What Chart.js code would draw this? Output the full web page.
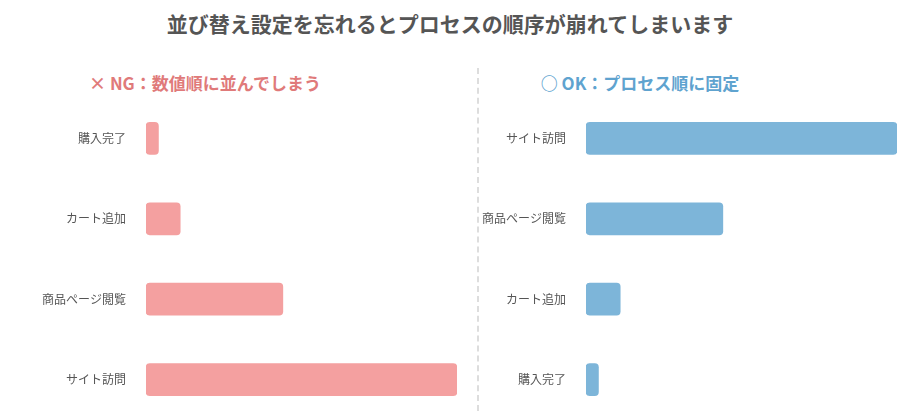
<!DOCTYPE html>
<html><head><meta charset="utf-8">
<script src="https://cdn.jsdelivr.net/npm/chart.js@4"></script>
<style>
body{margin:0;width:900px;height:411px;background:#fff;font-family:"Noto Sans CJK JP",sans-serif;position:relative;overflow:hidden}
.t{position:absolute;left:0;width:900px;text-align:center;top:8px;font-size:21px;font-weight:bold;color:#555}
.s{position:absolute;top:70px;font-size:17px;font-weight:bold;text-align:center}
.c{position:absolute;top:79px;height:360px}
.d{position:absolute;left:477px;top:68px;height:343px;border-left:2px dashed #ddd}
</style></head><body>
<div class="t">並び替え設定を忘れるとプロセスの順序が崩れてしまいます</div>
<div class="s" style="left:40px;width:330px;color:#e07a7a">× NG：数値順に並んでしまう</div>
<div class="s" style="left:480px;width:320px;color:#5fa3cf">○ OK：プロセス順に固定</div>
<div class="d"></div>
<div class="c" style="left:0;width:465px"><canvas id="ng"></canvas></div>
<div class="c" style="left:440px;width:460px"><canvas id="ok"></canvas></div>
<script>
const ngLabels = ['購入完了', 'カート追加', '商品ページ閲覧', 'サイト訪問'];
const ngValues = [4, 11, 44, 100];
const okLabels = ['サイト訪問', '商品ページ閲覧', 'カート追加', '購入完了'];
const okValues = [100, 44, 11, 4];

function makeChart(id, labels, values, color, padRight) {
  new Chart(document.getElementById(id), {
    type: 'bar',
    data: { labels: labels, datasets: [{ data: values, backgroundColor: color, barThickness: 32, borderRadius: 4, borderSkipped: false }] },
    options: {
      indexAxis: 'y', responsive: true, maintainAspectRatio: false, animation: false,
      layout: { padding: { right: padRight, top: 0, bottom: 0 } },
      plugins: { legend: { display: false }, tooltip: { enabled: false } },
      scales: {
        x: { display: false, min: 0, max: 100 },
        y: {
          grid: { display: false }, border: { display: false },
          ticks: { color: '#555', padding: 12, font: { size: 12, family: '"Noto Sans CJK JP"' } },
          afterFit: (s) => { s.width = 146; }
        }
      }
    }
  });
}
makeChart('ng', ngLabels, ngValues, '#f4a0a0', 8);
makeChart('ok', okLabels, okValues, '#7db5d9', 3);
</script>
</body></html>
